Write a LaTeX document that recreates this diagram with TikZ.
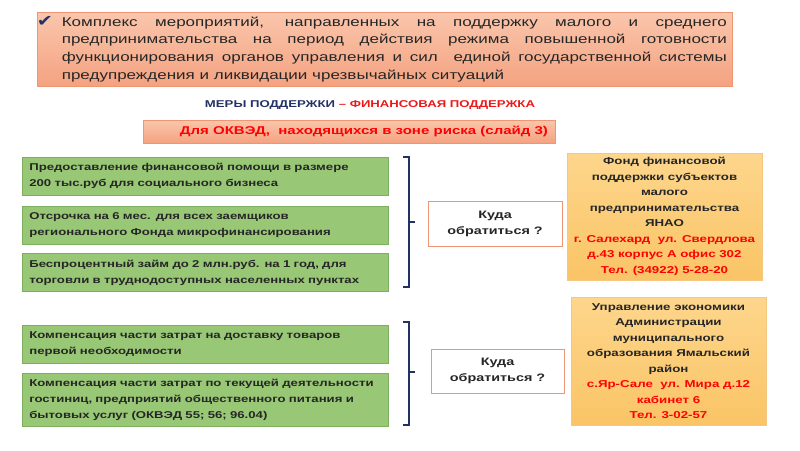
\documentclass[tikz,border=0pt]{standalone}
\usepackage{fontspec}
\setmainfont{Liberation Sans}[FakeStretch=1.33]
\newfontfamily\symfont{DejaVu Sans}[FakeStretch=1.2]
\usepackage{xcolor}
\usepackage{tikz}
\usetikzlibrary{positioning}
\definecolor{mynavy}{RGB}{35,50,100}
\definecolor{myred}{RGB}{235,25,25}
\definecolor{mytext}{RGB}{38,38,38}
\definecolor{salmonlt}{RGB}{250,198,172}
\definecolor{salmondk}{RGB}{244,162,128}
\definecolor{salmonrim}{RGB}{238,150,115}
\definecolor{greenfill}{RGB}{152,199,118}
\definecolor{greenrim}{RGB}{125,175,95}
\definecolor{amberlt}{RGB}{253,214,140}
\definecolor{amberdk}{RGB}{250,196,102}
\definecolor{amberrim}{RGB}{245,200,130}
\tikzset{
  headbox/.style={rectangle, top color=salmonlt, bottom color=salmondk,
    draw=salmonrim, line width=0.6pt, minimum width=695pt,
    inner xsep=3.5pt, inner ysep=2pt, minimum height=74pt,
    font=\fontsize{12.8}{17.8}\selectfont, text=mytext},
  riskbar/.style={rectangle, top color=salmonlt, bottom color=salmondk,
    draw=salmonrim, line width=0.6pt, minimum width=412pt, minimum height=23pt,
    font=\bfseries\fontsize{11.3}{12}\selectfont, text=red},
  measure/.style={rectangle, fill=greenfill, draw=greenrim, line width=0.6pt,
    text width=352pt, align=left, inner xsep=7pt, minimum height=38pt,
    font=\bfseries\fontsize{9.9}{16}\selectfont, text=mytext},
  askbox/.style={rectangle, fill=white, draw=salmonrim, line width=0.7pt,
    minimum width=134pt, minimum height=45pt, align=center,
    font=\bfseries\fontsize{10.8}{16}\selectfont, text=mytext},
  contact/.style={rectangle, top color=amberlt, bottom color=amberdk,
    draw=amberrim, line width=0.5pt, minimum width=195pt, minimum height=127pt,
    align=center, inner ysep=1pt,
    font=\bfseries\fontsize{10}{15.5}\selectfont, text=mytext},
  brace/.style={draw=mynavy, line width=1.4pt}
}
\begin{document}
\begin{tikzpicture}[x=1pt, y=-1pt]
  \useasboundingbox (0,0) rectangle (800,450);

  % Header
  \node[headbox, anchor=north west] (intro) at (37,12)
    {\hspace*{19pt}\parbox[c]{665pt}{%
     Комплекс мероприятий, направленных на поддержку малого и среднего\linebreak
     предпринимательства на период действия режима повышенной готовности\linebreak
     функционирования органов управления и сил \ единой государственной системы\linebreak
     предупреждения и ликвидации чрезвычайных ситуаций}};
  \node[font=\symfont\fontsize{16}{16}\selectfont, text=mynavy] (tick) at (45,21) {✔};

  % Title and risk bar
  \node[font=\bfseries\fontsize{9.9}{11}\selectfont] (title) at (370,105)
    {\textcolor{mynavy}{МЕРЫ ПОДДЕРЖКИ} \textcolor{myred}{– ФИНАНСОВАЯ ПОДДЕРЖКА}};
  \node[riskbar] (risk) at (349,131.5) {\hspace{30pt}Для ОКВЭД, \ находящихся в зоне риска (слайд 3)};

  % Group 1
  \node[measure, anchor=north west] (m1) at (22,157)
    {Предоставление финансовой помощи в размере\\200 тыс.руб для социального бизнеса};
  \node[measure, below=10pt of m1] (m2)
    {Отсрочка на 6 мес. для всех заемщиков\\регионального Фонда микрофинансирования};
  \node[measure, below=9pt of m2] (m3)
    {Беспроцентный займ до 2 млн.руб. на 1 год, для\\торговли в труднодоступных населенных пунктах};

  \draw[brace] (403,157) -- (409,157) -- (409,287) -- (403,287);
  \draw[brace] (409,222) -- (415,222);

  \node[askbox] (ask1) at (495,223.5) {Куда\\обратиться ?};
  \node[contact] (fund) at (664.5,216.5)
    {Фонд финансовой\\поддержки субъектов\\малого\\предпринимательства\\ЯНАО\\
     \textcolor{red}{г. Салехард \ ул. Свердлова}\\
     \textcolor{red}{д.43 корпус А офис 302}\\
     \textcolor{red}{Тел. (34922) 5-28-20}};

  % Group 2
  \node[measure, anchor=north west] (m4) at (22,325)
    {Компенсация части затрат на доставку товаров\\первой необходимости};
  \node[measure, below=9pt of m4, minimum height=53pt] (m5)
    {Компенсация части затрат по текущей деятельности\\гостиниц, предприятий общественного питания и\\бытовых услуг (ОКВЭД 55; 56; 96.04)};

  \draw[brace] (403,322) -- (409,322) -- (409,425) -- (403,425);
  \draw[brace] (409,372) -- (415,372);

  \node[askbox, minimum width=133pt, minimum height=44pt] (ask2) at (497.5,371) {Куда\\обратиться ?};
  \node[contact, minimum height=128pt] (admin) at (668.5,361)
    {Управление экономики\\Администрации\\муниципального\\образования Ямальский\\район\\
     \textcolor{red}{с.Яр-Сале \ ул. Мира д.12}\\
     \textcolor{red}{кабинет 6}\\
     \textcolor{red}{Тел. 3-02-57}};
\end{tikzpicture}
\end{document}
